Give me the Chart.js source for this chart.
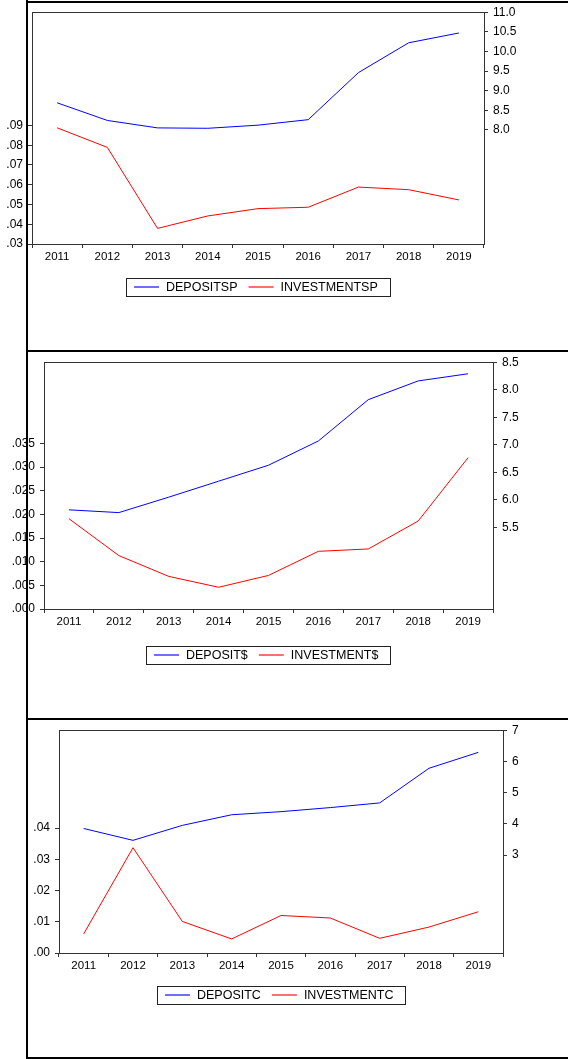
<!DOCTYPE html>
<html>
<head>
<meta charset="utf-8">
<script src="https://cdn.jsdelivr.net/npm/chart.js@4.4.1/dist/chart.umd.min.js"></script>
<style>
    body { margin: 0; background: #fff; width: 568px; height: 1059px; overflow: hidden; position: relative; }
    .line { position: absolute; background: #000; z-index: 2; }
    canvas { position: absolute; left: 0; }
</style>
</head>
<body>
<!-- moldura da figura -->
<div class="line" style="left:26px; top:0; width:2px; height:1059px;"></div>
<div class="line" style="left:26px; top:1px; width:542px; height:2px;"></div>
<div class="line" style="left:26px; top:350px; width:542px; height:2px;"></div>
<div class="line" style="left:26px; top:718px; width:542px; height:2px;"></div>
<div class="line" style="left:26px; top:1057px; width:542px; height:2px;"></div>

<canvas id="chartSP" width="568" height="350" style="top:0px"></canvas>
<canvas id="chartUSD" width="568" height="368" style="top:350px"></canvas>
<canvas id="chartC" width="568" height="341" style="top:718px"></canvas>

<script>
var years = ["2011", "2012", "2013", "2014", "2015", "2016", "2017", "2018", "2019"];

// painel 1
var depositSP = [8.69, 8.24, 8.05, 8.04, 8.12, 8.26, 9.46, 10.22, 10.47];
var investmentSP = [0.0888, 0.0789, 0.0379, 0.0442, 0.0479, 0.0486, 0.0588, 0.0575, 0.0523];
var ticksLeftSP = [0.03, 0.04, 0.05, 0.06, 0.07, 0.08, 0.09];
var ticksRightSP = [8.0, 8.5, 9.0, 9.5, 10.0, 10.5, 11.0];

// painel 2
var depositUSD = [5.82, 5.77, 6.05, 6.34, 6.63, 7.07, 7.82, 8.16, 8.29];
var investmentUSD = [0.0191, 0.0113, 0.0069, 0.0046, 0.0071, 0.0122, 0.0127, 0.0186, 0.0320];
var ticksLeftUSD = [0.000, 0.005, 0.010, 0.015, 0.020, 0.025, 0.030, 0.035];
var ticksRightUSD = [5.5, 6.0, 6.5, 7.0, 7.5, 8.0, 8.5];

// painel 3
var depositC = [3.85, 3.47, 3.95, 4.29, 4.39, 4.52, 4.67, 5.78, 6.29];
var investmentC = [0.0061, 0.0337, 0.0101, 0.0045, 0.0120, 0.0112, 0.0047, 0.0083, 0.0132];
var ticksLeftC = [0.00, 0.01, 0.02, 0.03, 0.04];
var ticksRightC = [3, 4, 5, 6, 7];

var blue = "#0000ff";
var red = "#ff0000";
var legendColors = ["#6f6fff", "#ff6f6f"];

Chart.defaults.font.family = '"Liberation Sans", Arial, sans-serif';
Chart.defaults.color = "#000";

// caixa do grafico + legenda no estilo EViews
var eviewsBox = {
    id: "eviewsBox",
    afterDraw: function(chart, args, opts) {
        var a = chart.chartArea;
        var ctx = chart.ctx;
        ctx.save();
        ctx.strokeStyle = "#333";
        ctx.lineWidth = 1;
        ctx.strokeRect(Math.round(a.left) + 0.5, Math.round(a.top) + 0.5,
            Math.round(a.right - a.left), Math.round(a.bottom - a.top));

        var ds = chart.data.datasets;
        ctx.font = '12.5px "Liberation Sans", Arial, sans-serif';
        var w1 = ctx.measureText(ds[0].label).width;
        var w2 = ctx.measureText(ds[1].label).width;
        var total = 8 + 25 + 7 + w1 + 11 + 25 + 7 + w2 + 12;
        var x = Math.round((a.left + a.right) / 2 - total / 2);
        var top = opts.legendTop;
        var mid = top + 9;
        ctx.strokeStyle = "#222";
        ctx.strokeRect(x + 0.5, top + 0.5, Math.round(total), 18);

        ctx.textBaseline = "middle";
        ctx.fillStyle = "#000";
        var cx = x + 8;
        for (var i = 0; i < 2; i++) {
            ctx.beginPath();
            ctx.strokeStyle = legendColors[i];
            ctx.lineWidth = 2;
            ctx.moveTo(cx, mid);
            ctx.lineTo(cx + 25, mid);
            ctx.stroke();
            cx += 32;
            ctx.fillText(ds[i].label, cx, mid + 1);
            cx += (i == 0 ? w1 : w2) + 11;
        }
        ctx.restore();
    }
};

function makeChart(id, cfg) {
    var ctx = document.getElementById(id).getContext("2d");
    var tickGrid = { display: true, drawOnChartArea: false, drawTicks: true, tickLength: 4, color: "#333" };

    return new Chart(ctx, {
        type: "line",
        data: {
            labels: years,
            datasets: [{
                label: cfg.labels[0],
                data: cfg.deposit,
                borderColor: blue,
                borderWidth: 1,
                pointRadius: 0,
                yAxisID: "yR"
            }, {
                label: cfg.labels[1],
                data: cfg.investment,
                borderColor: red,
                borderWidth: 1,
                pointRadius: 0,
                yAxisID: "yL"
            }]
        },
        options: {
            responsive: false,
            animation: false,
            layout: { padding: { top: cfg.top, left: 0, right: 0, bottom: 0 } },
            plugins: {
                legend: { display: false },
                tooltip: { enabled: false },
                eviewsBox: { legendTop: cfg.legendTop }
            },
            scales: {
                x: {
                    offset: true,
                    grid: Object.assign({}, tickGrid, { offset: true }),
                    border: { display: false },
                    ticks: { font: { size: 11.5 }, padding: 2, maxRotation: 0, autoSkip: false },
                    afterFit: function(s) { s.height = cfg.xHeight; }
                },
                yL: {
                    position: "left",
                    min: cfg.leftMin,
                    max: cfg.leftMax,
                    grid: tickGrid,
                    border: { display: false },
                    ticks: {
                        font: { size: 12 },
                        padding: 5,
                        autoSkip: false,
                        callback: function(v) { return v.toFixed(cfg.leftDec).replace(/^0/, ""); }
                    },
                    afterBuildTicks: function(s) { s.ticks = cfg.leftTicks.map(function(v) { return { value: v }; }); },
                    afterFit: function(s) { s.width = cfg.left; }
                },
                yR: {
                    position: "right",
                    min: cfg.rightMin,
                    max: cfg.rightMax,
                    grid: tickGrid,
                    border: { display: false },
                    ticks: {
                        font: { size: 12 },
                        padding: 5,
                        autoSkip: false,
                        callback: function(v) { return v.toFixed(cfg.rightDec); }
                    },
                    afterBuildTicks: function(s) { s.ticks = cfg.rightTicks.map(function(v) { return { value: v }; }); },
                    afterFit: function(s) { s.width = 568 - cfg.right; }
                }
            }
        },
        plugins: [eviewsBox]
    });
}

makeChart("chartSP", {
    labels: ["DEPOSITSP", "INVESTMENTSP"],
    deposit: depositSP, investment: investmentSP,
    leftTicks: ticksLeftSP, rightTicks: ticksRightSP,
    leftMin: 0.03, leftMax: 0.1473, leftDec: 2,
    rightMin: 5.09, rightMax: 11.0, rightDec: 1,
    top: 10, left: 32, right: 484, xHeight: 106, legendTop: 278
});

makeChart("chartUSD", {
    labels: ["DEPOSIT$", "INVESTMENT$"],
    deposit: depositUSD, investment: investmentUSD,
    leftTicks: ticksLeftUSD, rightTicks: ticksRightUSD,
    leftMin: 0, leftMax: 0.0522, leftDec: 3,
    rightMin: 4.02, rightMax: 8.5, rightDec: 1,
    top: 10, left: 44, right: 493, xHeight: 109, legendTop: 296
});

makeChart("chartC", {
    labels: ["DEPOSITC", "INVESTMENTC"],
    deposit: depositC, investment: investmentC,
    leftTicks: ticksLeftC, rightTicks: ticksRightC,
    leftMin: 0, leftMax: 0.0713, leftDec: 2,
    rightMin: -0.14, rightMax: 7, rightDec: 0,
    top: 10, left: 59, right: 503, xHeight: 106, legendTop: 268
});
</script>
</body>
</html>
